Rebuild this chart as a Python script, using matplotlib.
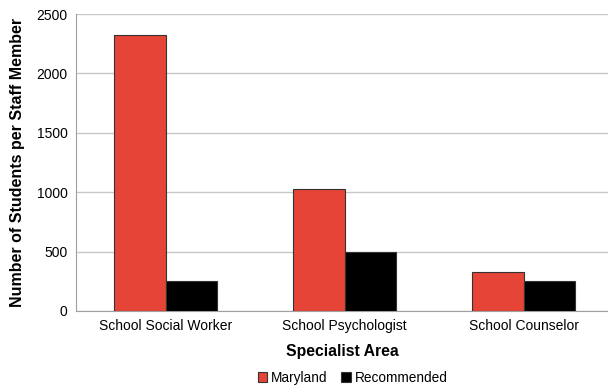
import numpy as np
from matplotlib import pyplot as plt

plt.rcParams['font.family'] = ['Liberation Sans', 'DejaVu Sans']

categories = ['School Social Worker', 'School Psychologist', 'School Counselor']
maryland = [2325, 1025, 325]
recommended = [250, 500, 250]

fig = plt.figure(figsize=(6.08, 3.88), dpi=100)
ax = fig.add_axes([76 / 608, 77 / 388, 532 / 608, 297 / 388])

x = np.arange(len(categories))
w = 0.288
ax.bar(x - w / 2, maryland, w, color='#E64436', edgecolor='#333333', linewidth=0.8,
       label='Maryland', zorder=3)
ax.bar(x + w / 2, recommended, w, color='black', edgecolor='#333333', linewidth=0.8,
       label='Recommended', zorder=3)

ax.set_xlim(-0.5, 2.47)
ax.set_ylim(0, 2500)
ax.set_yticks([0, 500, 1000, 1500, 2000, 2500])
ax.set_xticks(x)
ax.set_xticklabels(categories)
ax.tick_params(axis='both', length=0, labelsize=10, pad=6)
ax.grid(axis='y', color='#c8c8c8', linewidth=1, zorder=0)

for s in ['top', 'right']:
    ax.spines[s].set_visible(False)
for s in ['left', 'bottom']:
    ax.spines[s].set_color('#a0a0a0')

ax.set_ylabel('Number of Students per Staff Member', fontsize=11.5, fontweight='bold', labelpad=8)
ax.set_xlabel('Specialist Area', fontsize=11.3, fontweight='bold', labelpad=8)

ax.legend(loc='upper center', bbox_to_anchor=(0.52, -0.16), ncol=2, frameon=False,
          fontsize=9.8, handlelength=0.7, handleheight=0.7, handletextpad=0.3,
          columnspacing=1.0)

fig.savefig('out.png', dpi=100)
